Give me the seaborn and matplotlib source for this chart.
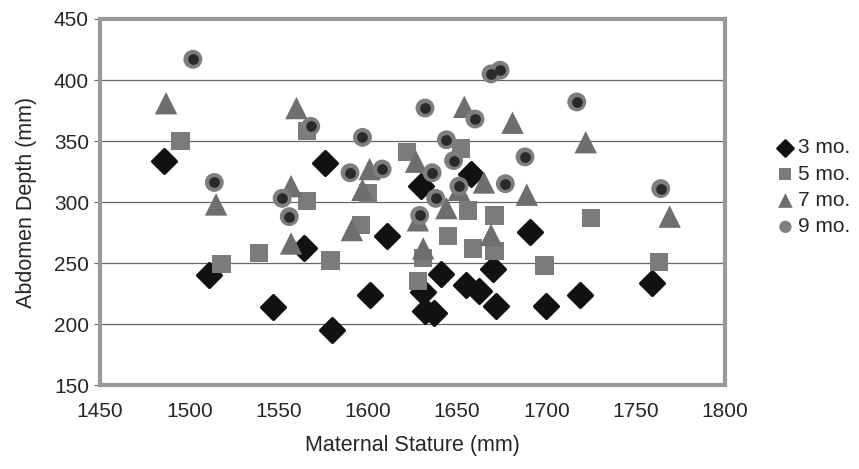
import numpy as np
import pandas as pd
import matplotlib
matplotlib.use('Agg')
import matplotlib.pyplot as plt
import seaborn as sb

# values
stature_3 = [1486, 1511, 1547, 1564, 1576, 1580, 1601, 1611, 1630, 1631, 1632,
             1637, 1641, 1655, 1658, 1662, 1670, 1672, 1691, 1700, 1719, 1759]
depth_3 = [334, 240, 214, 262, 332, 195, 224, 272, 313, 226, 211,
           209, 241, 232, 323, 227, 245, 215, 275, 215, 224, 234]

stature_5 = [1495, 1518, 1539, 1566, 1566, 1579, 1596, 1600, 1622, 1652,
             1656, 1645, 1659, 1671, 1671, 1631, 1628, 1699, 1725, 1763]
depth_5 = [350, 249, 258, 358, 301, 252, 281, 307, 341, 344,
           293, 272, 262, 289, 260, 254, 235, 248, 287, 251]

stature_7 = [1487, 1515, 1557, 1557, 1560, 1591, 1597, 1601, 1627, 1628,
             1631, 1644, 1651, 1654, 1665, 1669, 1681, 1689, 1722, 1769]
depth_7 = [381, 298, 313, 266, 377, 277, 310, 327, 333, 285,
           262, 295, 310, 378, 316, 273, 365, 306, 349, 288]

stature_9 = [1502, 1514, 1552, 1556, 1568, 1590, 1597, 1608, 1629, 1632, 1636,
             1638, 1644, 1648, 1651, 1660, 1669, 1674, 1677, 1688, 1717, 1764]
depth_9 = [417, 316, 303, 288, 362, 324, 353, 327, 289, 377, 324,
           303, 351, 334, 313, 368, 405, 408, 315, 337, 382, 311]

labels = ['3 mo.', '5 mo.', '7 mo.', '9 mo.']
x_ticks = [1450, 1500, 1550, 1600, 1650, 1700, 1750, 1800]
y_ticks = [150, 200, 250, 300, 350, 400, 450]

df = pd.concat([
    pd.DataFrame({'Stature': stature_3, 'Depth': depth_3, 'Age': labels[0]}),
    pd.DataFrame({'Stature': stature_5, 'Depth': depth_5, 'Age': labels[1]}),
    pd.DataFrame({'Stature': stature_7, 'Depth': depth_7, 'Age': labels[2]}),
    pd.DataFrame({'Stature': stature_9, 'Depth': depth_9, 'Age': labels[3]}),
])

sb.set_style('white')
plt.rcParams['font.family'] = ['Liberation Sans', 'DejaVu Sans']

fig = plt.figure(figsize=(8.59, 4.69), dpi=100)
ax = fig.add_axes([100/859, 1-385/469, 625/859, 366/469])

styles = {
    '3 mo.': dict(marker='D', color='#111111', s=155, edgecolor='#111111', linewidth=2),
    '5 mo.': dict(marker='s', color='#7b7b7b', s=175, edgecolor='none', linewidth=0),
    '7 mo.': dict(marker='^', color='#6e6e6e', s=260, edgecolor='none', linewidth=0),
    '9 mo.': dict(marker='o', color='#7e7e7e', s=185, edgecolor='none', linewidth=0),
}
for lab in labels:
    sub = df[df['Age'] == lab]
    st = styles[lab]
    sb.scatterplot(x='Stature', y='Depth', data=sub, ax=ax, label=lab,
                   marker=st['marker'], color=st['color'], s=st['s'],
                   edgecolor=st['edgecolor'], linewidth=st['linewidth'], zorder=3)
# darker centre of the 9 mo. dots
sub9 = df[df['Age'] == '9 mo.']
ax.scatter(sub9['Stature'], sub9['Depth'], s=45, color='#2a2a2a', zorder=4)

ax.set_xlim(1450, 1800)
ax.set_ylim(150, 450)
ax.set_xticks(x_ticks)
ax.set_yticks(y_ticks)
ax.yaxis.grid(True, color='#666666', linewidth=0.9)
ax.xaxis.grid(False)
ax.set_axisbelow(True)
for sp in ax.spines.values():
    sp.set_color('#999999')
    sp.set_linewidth(3)
ax.tick_params(axis='y', length=4, width=0.8, color='#666666', labelsize=15, pad=4, left=True)
ax.tick_params(axis='x', length=0, labelsize=15, pad=12)
ax.set_xlabel('Maternal Stature (mm)', fontsize=15.5, labelpad=10)
ax.set_ylabel('Abdomen Depth (mm)', fontsize=15.5, labelpad=12)

leg = ax.legend(loc='center left', bbox_to_anchor=(1.07, 0.54), frameon=False,
                fontsize=15, markerscale=0.65, handlelength=0.6, handletextpad=0.3,
                labelspacing=0.35, borderpad=0)

fig.savefig('out.png', dpi=100)
